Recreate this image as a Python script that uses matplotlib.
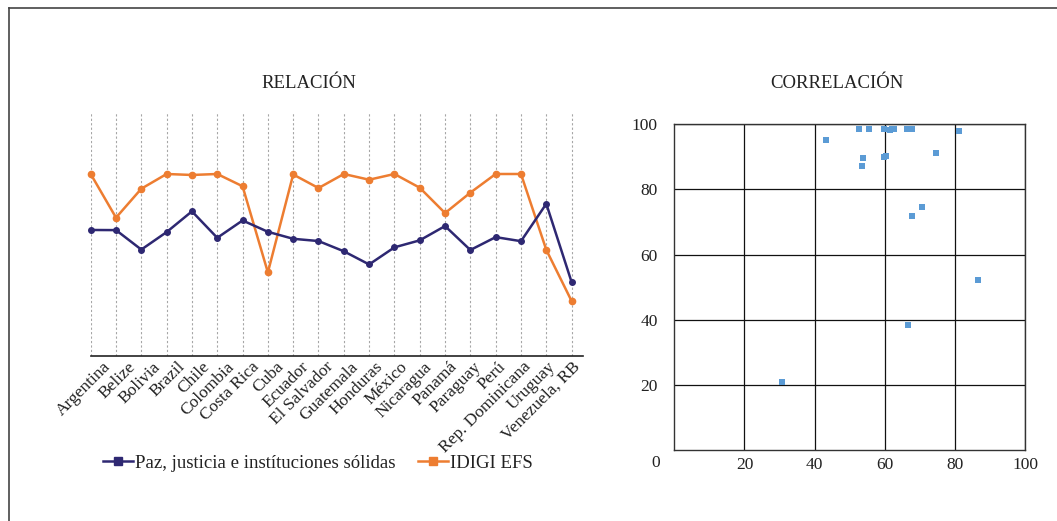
import matplotlib
matplotlib.use("Agg")
import matplotlib.pyplot as plt
from matplotlib.lines import Line2D
import matplotlib.transforms as mtransforms

plt.rcParams['font.family'] = ['Liberation Serif', 'DejaVu Serif']

countries = ["Argentina", "Belize", "Bolivia", "Brazil", "Chile", "Colombia",
             "Costa Rica", "Cuba", "Ecuador", "El Salvador", "Guatemala",
             "Honduras", "México", "Nicaragua", "Panamá", "Paraguay", "Perú",
             "Rep. Dominicana", "Uruguay", "Venezuela, RB"]
paz = [67.8, 67.7, 53.8, 66.3, 81.1, 62.2, 74.6, 66.5, 61.5, 59.9, 52.6,
       43.2, 55.4, 60.4, 70.6, 53.5, 62.7, 59.8, 86.5, 30.6]
idigi = [98.6, 71.9, 89.6, 98.6, 98.0, 98.6, 91.1, 38.4, 98.3, 90.0, 98.6,
         95.1, 98.6, 90.2, 74.7, 87.2, 98.6, 98.6, 52.2, 20.9]
scatter_ticks = [20, 40, 60, 80, 100]

label_paz = "Paz, justicia e instítuciones sólidas"
label_idigi = "IDIGI EFS"
c_paz = "#2E2872"
c_idigi = "#ED7D31"
c_scatter = "#5B9BD5"

W, H = 1057, 521
fig = plt.figure(figsize=(W / 100, H / 100), dpi=100)

def fbox(l, t, r, b):
    return [l / W, 1 - b / H, (r - l) / W, (b - t) / H]

# outer border (left and top)
fig.add_artist(Line2D([9 / W, 9 / W], [0, 1 - 8 / H], transform=fig.transFigure,
                      color="#444444", lw=1.2))
fig.add_artist(Line2D([9 / W, 1], [1 - 8 / H, 1 - 8 / H], transform=fig.transFigure,
                      color="#444444", lw=1.2))

# ---------------- Line chart ----------------
ax1 = fig.add_axes(fbox(90.7, 113, 583, 355.5))
ax2 = ax1.twinx()
x = list(range(len(countries)))

for xi in x:
    ax1.axvline(xi, color="#A6A6A6", lw=0.8, ls=(0, (2, 2)), zorder=0)

ax2.plot(x, paz, color=c_paz, lw=1.8, marker="o", ms=4, clip_on=False, zorder=3)
ax1.plot(x, idigi, color=c_idigi, lw=1.8, marker="o", ms=4.5, clip_on=False, zorder=3)

ax1.set_ylim(-12.4, 135.9)
ax2.set_ylim(-21.8, 151.3)
ax1.set_xlim(0, 19.45)

for a in (ax1, ax2):
    for s in ("top", "right", "left"):
        a.spines[s].set_visible(False)
    a.set_yticks([])
ax2.spines["bottom"].set_visible(False)
ax1.spines["bottom"].set_color("#222222")
ax1.spines["bottom"].set_linewidth(1.2)

ax1.set_xticks(x)
ax1.set_xticklabels(countries, rotation=45, ha="right", va="center",
                    rotation_mode="anchor", fontsize=12.5, color="#222222")
ax1.tick_params(axis="x", length=0, pad=0)
n = len(countries)
for i, lab in enumerate(ax1.get_xticklabels()):
    dx = (18 - 12 * i / (n - 1)) / 100
    offset = mtransforms.ScaledTranslation(dx, -9 / 100, fig.dpi_scale_trans)
    lab.set_transform(lab.get_transform() + offset)

fig.text(309 / W, 1 - 84 / H, "RELACIÓN", ha="center", va="center",
         fontsize=13.5, color="#222222")

handles = [Line2D([], [], color=c_paz, lw=1.8, marker="s", ms=6),
           Line2D([], [], color=c_idigi, lw=1.8, marker="s", ms=6)]
fig.legend(handles, [label_paz, label_idigi], loc="center",
           bbox_to_anchor=(318 / W, 1 - 463 / H), ncol=2, frameon=False,
           fontsize=13.5, handlelength=1.6, handletextpad=0.1, columnspacing=1.2,
           labelcolor="#222222")

# ---------------- Scatter ----------------
ax3 = fig.add_axes(fbox(674.3, 124, 1025, 450.3))
ax3.scatter(paz, idigi, marker="s", s=24, color=c_scatter, zorder=3, linewidths=0)
ax3.set_xlim(0, 100)
ax3.set_ylim(0, 100)
ax3.set_xticks(scatter_ticks)
ax3.set_yticks(scatter_ticks)
ax3.tick_params(length=0, labelsize=12.5, labelcolor="#222222")
ax3.tick_params(axis="y", pad=12)
ax3.tick_params(axis="x", pad=5)
ax3.grid(True, color="#111111", lw=0.9)
for s in ax3.spines.values():
    s.set_color("#333333")
    s.set_linewidth(1.0)
ax3.text(-0.054, -0.04, "0", transform=ax3.transAxes, ha="center", va="center",
         fontsize=12.5, color="#222222")

fig.text(837 / W, 1 - 84 / H, "CORRELACIÓN", ha="center", va="center",
         fontsize=13.5, color="#222222")

fig.savefig("out.png", dpi=100)
